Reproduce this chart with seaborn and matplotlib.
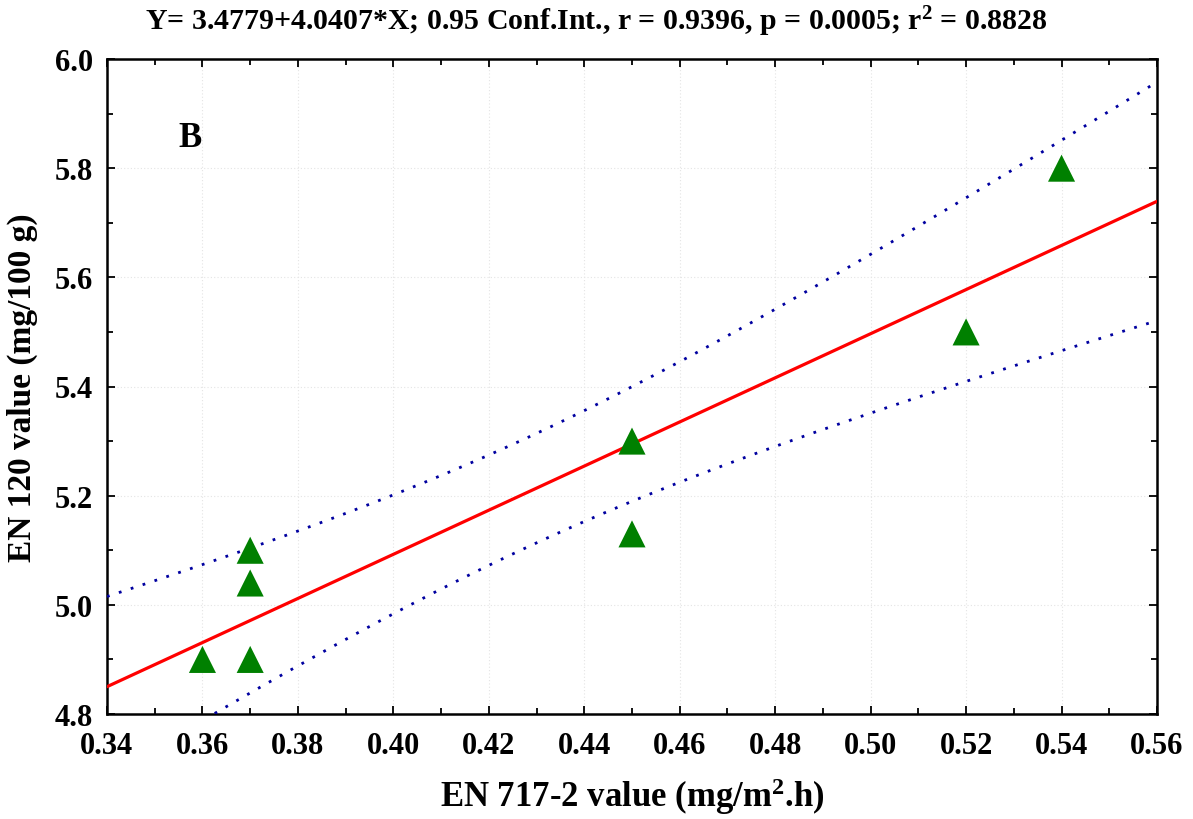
import numpy as np
import pandas as pd
import seaborn as sns
import matplotlib
matplotlib.use("Agg")
import matplotlib.pyplot as plt
from matplotlib.ticker import MultipleLocator

# Data
en717 = [0.36, 0.37, 0.37, 0.37, 0.45, 0.45, 0.52, 0.54]
en120 = [4.90, 5.10, 5.04, 4.90, 5.30, 5.13, 5.50, 5.80]
x_ticks = [0.34, 0.36, 0.38, 0.40, 0.42, 0.44, 0.46, 0.48, 0.50, 0.52, 0.54, 0.56]
y_ticks = [4.8, 5.0, 5.2, 5.4, 5.6, 5.8, 6.0]
title = "Y= 3.4779+4.0407*X; 0.95 Conf.Int., r = 0.9396, p = 0.0005; r$^2$ = 0.8828"
panel = "B"

sns.set_theme(style="white")
plt.rcParams['font.family'] = ['Liberation Serif', 'DejaVu Serif']
plt.rcParams['font.weight'] = 'bold'
plt.rcParams['mathtext.fontset'] = 'custom'
plt.rcParams['mathtext.rm'] = 'Liberation Serif:bold'
plt.rcParams['mathtext.it'] = 'Liberation Serif:bold'
plt.rcParams['mathtext.bf'] = 'Liberation Serif:bold'
for k in ['text.color', 'axes.labelcolor', 'xtick.color', 'ytick.color']:
    plt.rcParams[k] = 'black'

df = pd.DataFrame({"x": en717, "y": en120})

fig = plt.figure(figsize=(11.93, 8.2), dpi=100)
ax = fig.add_axes([107/1193, 1-715/820, 1050/1193, 655/820])

# regression and 95% confidence band of the mean
x = np.array(en717); y = np.array(en120)
n = len(x)
b1, b0 = np.polyfit(x, y, 1)
res = y - (b0 + b1*x)
s = np.sqrt(np.sum(res**2)/(n-2))
sxx = np.sum((x - x.mean())**2)
t = 2.4469
xs = np.linspace(x_ticks[0], x_ticks[-1], 200)
yh = b0 + b1*xs
hw = t*s*np.sqrt(1/n + (xs - x.mean())**2/sxx)

ax.plot(xs, yh, color='#ff0000', lw=2.3, zorder=3)
ax.plot(xs, yh + hw, color='#0000a0', lw=2.0, linestyle=(0, (1, 3.5)), zorder=3)
ax.plot(xs, yh - hw, color='#0000a0', lw=2.0, linestyle=(0, (1, 3.5)), zorder=3)
sns.scatterplot(data=df, x="x", y="y", marker='^', s=380, color='#008000',
                edgecolor='none', ax=ax, zorder=4, legend=False)

ax.set_xlim(x_ticks[0], x_ticks[-1])
ax.set_ylim(y_ticks[0], y_ticks[-1])
ax.set_xticks(x_ticks)
ax.set_yticks(y_ticks)
ax.set_xticklabels([f"{v:.2f}" for v in x_ticks])
ax.set_yticklabels([f"{v:.1f}" for v in y_ticks])
ax.xaxis.set_minor_locator(MultipleLocator(0.01))
ax.yaxis.set_minor_locator(MultipleLocator(0.1))
ax.tick_params(which='both', direction='in', top=True, right=True, bottom=True, left=True,
               width=1.3, color='black')
ax.tick_params(which='major', length=6, labelsize=22, pad=10)
ax.tick_params(axis='x', which='major', pad=12)
ax.tick_params(which='minor', length=4)
ax.grid(True, which='major', color='#e4e4e4', linestyle=(0, (1, 2)), lw=0.8)
for sp in ax.spines.values():
    sp.set_visible(True)
    sp.set_color('black')
    sp.set_linewidth(1.8)

ax.set_xlabel("EN 717-2 value (mg/m$^2$.h)", fontsize=25, fontweight='bold', labelpad=11)
ax.set_ylabel("EN 120 value (mg/100 g)", fontsize=24, fontweight='bold', labelpad=12)
fig.text(0.5, 1 - 22/820, title, fontsize=21.5, fontweight='bold', ha='center', va='center')
ax.text(0.079, 0.88, panel, transform=ax.transAxes, fontsize=25, fontweight='bold',
        ha='center', va='center')

fig.savefig("out.png", dpi=100)
